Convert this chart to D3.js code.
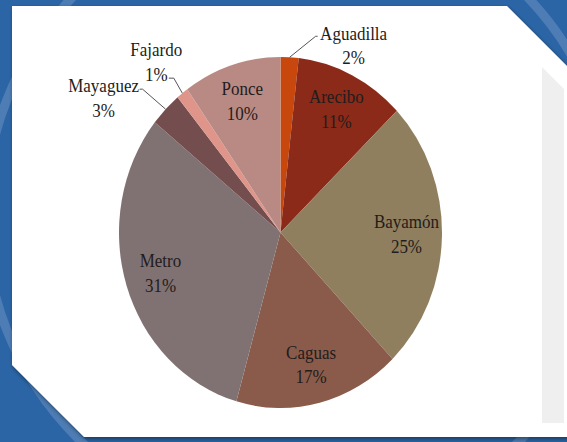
<!DOCTYPE html>
<html>
<head>
<meta charset="utf-8">
<script src="https://cdn.jsdelivr.net/npm/d3@7"></script>
<style>
  html, body { margin: 0; padding: 0; background: #2c65a6; }
  svg { display: block; }
</style>
</head>
<body>
<div id="chart"></div>
<script>
'use strict';

// Data (percent of total)
const regions = ['Aguadilla', 'Arecibo', 'Bayamón', 'Caguas', 'Metro', 'Mayaguez', 'Fajardo', 'Ponce'];
const shares = [1.8, 11, 25, 16.6, 31.4, 3.2, 1.2, 9.8];
const sliceColors = ['#c8470d', '#8b2a19', '#8f7f5e', '#8a5b4a', '#807272', '#744e4e', '#e0958b', '#b98a84'];

const width = 567, height = 442;
const cx = 280.5, cy = 232.5;
const ry = 175.5, rx = 161.5; // the picture is stretched a bit vertically

const svg = d3.select('#chart')
    .append('svg')
    .attr('width', width)
    .attr('height', height);

// background
svg.append('rect')
    .attr('width', width)
    .attr('height', height)
    .attr('fill', '#2c65a6');

svg.append('circle')
    .attr('cx', 300).attr('cy', 215).attr('r', 315)
    .attr('fill', 'none')
    .attr('stroke', 'rgba(255,255,255,0.16)')
    .attr('stroke-width', 9);

const defs = svg.append('defs');
const shadow = defs.append('filter').attr('id', 'shadow')
    .attr('x', '-10%').attr('y', '-10%').attr('width', '120%').attr('height', '120%');
shadow.append('feDropShadow')
    .attr('dx', 1).attr('dy', 2).attr('stdDeviation', 2)
    .attr('flood-color', '#000').attr('flood-opacity', 0.45);

// white card with cut corners
svg.append('polygon')
    .attr('points', '12,6 507,6 576,75 576,437 84,437 12,365')
    .attr('fill', '#ffffff')
    .attr('filter', 'url(#shadow)');

// light grey panel at the right
svg.append('polygon')
    .attr('points', '542,67 564,89 564,423 542,423')
    .attr('fill', '#efefef');

// pie
const data = regions.map((r, i) => ({ k: r, v: shares[i], c: sliceColors[i] }));
const total = d3.sum(shares);
const pct = d3.format('.0%');

const pieGen = d3.pie()
    .sort(null)
    .value(d => d.v);
const pieData = pieGen(data);

const arcGen = d3.arc()
    .innerRadius(0)
    .outerRadius(ry);

const chart = svg.append('g')
    .attr('transform', `translate(${cx},${cy}) scale(${rx / ry},1)`);

chart.selectAll('path')
    .data(pieData)
    .join('path')
    .attr('fill', d => d.data.c)
    .attr('d', arcGen);

// point on the (stretched) ellipse at angle a, fraction k of the radius
const at = (a, k) => [cx + k * rx * Math.sin(a), cy - k * ry * Math.cos(a)];
const mid = d => (d.startAngle + d.endAngle) / 2;

// outside labels: offsets from the slice edge (elbow, end of leader, label centre)
const outside = {
    'Aguadilla': { elbow: [26, -21], end: [28, -21], label: [64, -11] },
    'Fajardo': { elbow: [-8.5, -15], end: [-13.5, -15], label: [-26, -30] },
    'Mayaguez': { elbow: [-23, -20], end: [-26, -20], label: [-62, -10] }
};

const labels = svg.append('g')
    .attr('font-family', '"Liberation Serif", "DejaVu Serif", serif')
    .attr('font-size', 17)
    .attr('fill', '#231c1c')
    .attr('text-anchor', 'middle');

pieData.forEach(d => {
    const o = outside[d.data.k];
    let x, y;
    if (o) {
        const e = at(mid(d), 1);
        svg.append('polyline')
            .attr('points', [e, [e[0] + o.elbow[0], e[1] + o.elbow[1]], [e[0] + o.end[0], e[1] + o.end[1]]]
                .map(p => p.join(',')).join(' '))
            .attr('fill', 'none')
            .attr('stroke', '#555')
            .attr('stroke-width', 1);
        x = e[0] + o.label[0];
        y = e[1] + o.label[1];
    } else {
        [x, y] = at(mid(d), 0.78);
    }
    const t = labels.append('text').attr('transform', `translate(${x},${y}) scale(1,1.08)`);
    t.append('tspan').attr('x', 0).attr('y', -12).attr('dominant-baseline', 'central').text(d.data.k);
    t.append('tspan').attr('x', 0).attr('y', 11).attr('dominant-baseline', 'central').text(pct(d.data.v / total));
});
</script>
</body>
</html>
